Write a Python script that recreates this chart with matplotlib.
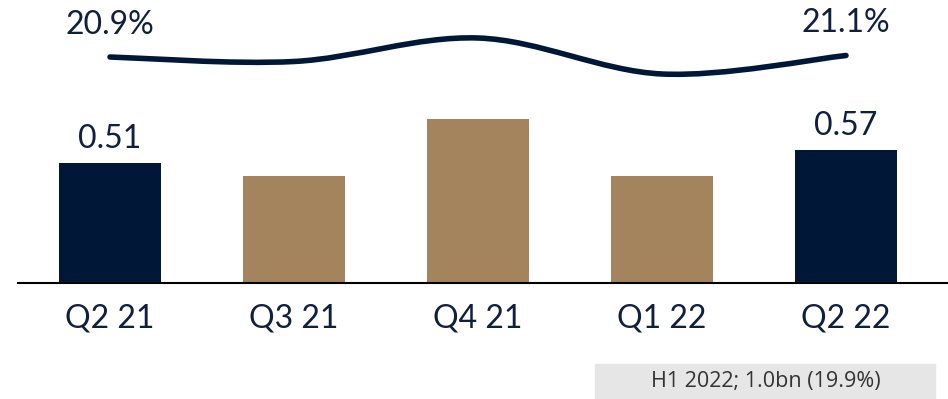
import numpy as np
import matplotlib.pyplot as plt
from matplotlib.path import Path
from matplotlib.patches import PathPatch, Rectangle

plt.rcParams['font.family'] = ['Lato', 'DejaVu Sans']

quarters = ["Q2 21", "Q3 21", "Q4 21", "Q1 22", "Q2 22"]
values = [0.51, 0.455, 0.70, 0.455, 0.565]
margin = [20.9, 20.45, 22.8, 19.2, 21.05]
bar_labels = ["0.51", "", "", "", "0.57"]
line_labels = ["20.9%", "", "", "", "21.1%"]
navy = "#001738"
gold = "#A3845D"
txt = "#0F1F3D"
colors = [navy, gold, gold, gold, navy]

W, H = 948, 399
fig = plt.figure(figsize=(W / 100, H / 100), dpi=100)
# axes from y pixel 283 (baseline) up to the top
ax = fig.add_axes([0, (H - 283) / H, 1, 283 / H])
x = np.arange(len(quarters))
ax.bar(x, values, width=0.555, color=colors)
ax.set_xlim((0 - 110) / 184, (948 - 110) / 184)
ax.set_ylim(0, 283 / 235)
ax.axhline(0, xmin=18 / 948, xmax=1, color="black", lw=1.5, clip_on=False)
for s in ax.spines.values():
    s.set_visible(False)
ax.set_yticks([])
ax.set_xticks(x)
ax.set_xticklabels(quarters, fontsize=23, color=txt)
ax.tick_params(axis='x', length=0, pad=15)
for xi, v, lab in zip(x, values, bar_labels):
    if lab:
        ax.text(xi, v + 0.04, lab, ha='center', va='bottom', fontsize=23,
                color=txt)

# line on its own scale
ax2 = ax.twinx()
ax2.set_ylim(20.9 - (283 - 57) / 10, 20.9 + 57 / 10)
ax2.set_yticks([])
for s in ax2.spines.values():
    s.set_visible(False)
# smooth curve through the points (Catmull-Rom as cubic Beziers)
pts = np.column_stack([x, margin]).astype(float)
verts = [tuple(pts[0])]
codes = [Path.MOVETO]
t = 1 / 6
for i in range(len(pts) - 1):
    p0 = pts[max(i - 1, 0)]
    p1 = pts[i]
    p2 = pts[i + 1]
    p3 = pts[min(i + 2, len(pts) - 1)]
    c1 = p1 + (p2 - p0) * t
    c2 = p2 - (p3 - p1) * t
    verts += [tuple(c1), tuple(c2), tuple(p2)]
    codes += [Path.CURVE4] * 3
ax2.add_patch(PathPatch(Path(verts, codes), fill=False, edgecolor=navy,
                        lw=4, capstyle='round'))
for xi, v, lab in zip(x, margin, line_labels):
    if lab:
        ax2.text(xi, v + 1.7, lab, ha='center', va='bottom', fontsize=23,
                 color=txt)

# footnote box
fig.patches.append(Rectangle((595 / W, 0), (935 - 595) / W, (H - 364) / H,
                             transform=fig.transFigure, color="#E6E6E6"))
fig.text(766 / W, (H - 382) / H, "H1 2022; 1.0bn (19.9%)", ha='center',
         va='center', fontsize=15.5, color="#333333", family=['Open Sans', 'DejaVu Sans'])

fig.savefig("out.png", dpi=100)
